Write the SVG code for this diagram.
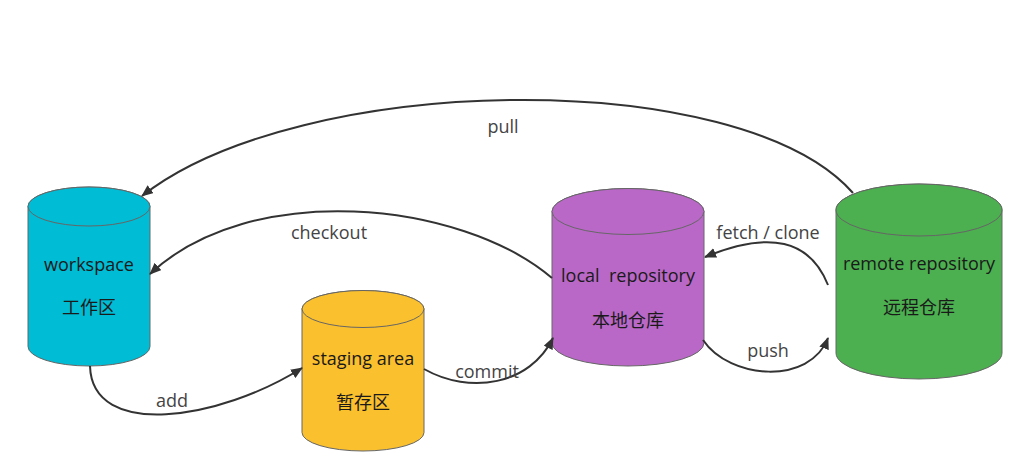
<svg xmlns="http://www.w3.org/2000/svg" width="1034" height="476" viewBox="0 0 1034 476">
<style>
.cyl{stroke:#666;stroke-width:1}
.nt{font-family:"Open Sans","Noto Sans CJK SC",sans-serif;font-size:18px;fill:#1a1a1a;text-anchor:middle;dominant-baseline:central}
.lb{font-family:"Open Sans","Noto Sans CJK SC",sans-serif;font-size:18px;fill:#444;text-anchor:middle;dominant-baseline:central}
.ed{fill:none;stroke:#333;stroke-width:2;marker-end:url(#ah)}
</style>
<defs>
<marker id="ah" viewBox="0 0 12 10" refX="11" refY="5" markerWidth="12" markerHeight="10" markerUnits="userSpaceOnUse" orient="auto">
<path d="M0 0 L12 5 L0 10 Z" fill="#333"/>
</marker>
</defs>
<rect width="1034" height="476" fill="#fff"/>
<g id="workspace">
<path class="cyl" fill="#00bcd4" d="M28 206.5 L28 346.5 A61 19.5 0 0 0 150 346.5 L150 206.5 A61 19.5 0 0 0 28 206.5 Z"/>
<ellipse class="cyl" fill="#00bcd4" cx="89" cy="206.5" rx="61" ry="19.5"/>
<text class="nt" x="89" y="263.5">workspace</text>
<text class="nt" x="89" y="306.5">工作区</text>
</g>
<g id="staging">
<path class="cyl" fill="#fbc02d" d="M302 309 L302 432.5 A61 18.5 0 0 0 424 432.5 L424 309 A61 18.5 0 0 0 302 309 Z"/>
<ellipse class="cyl" fill="#fbc02d" cx="363" cy="309" rx="61" ry="18.5"/>
<text class="nt" x="363" y="357.5">staging area</text>
<text class="nt" x="363" y="401.5">暂存区</text>
</g>
<g id="local">
<path class="cyl" fill="#ba68c8" d="M552 211.5 L552 343 A76 23 0 0 0 704 343 L704 211.5 A76 23 0 0 0 552 211.5 Z"/>
<ellipse class="cyl" fill="#ba68c8" cx="628" cy="211.5" rx="76" ry="23"/>
<text class="nt" x="628" y="274.5" xml:space="preserve">local  repository</text>
<text class="nt" x="628" y="319.5">本地仓库</text>
</g>
<g id="remote">
<path class="cyl" fill="#4caf50" d="M836 210 L836 353 A83 26 0 0 0 1002 353 L1002 210 A83 26 0 0 0 836 210 Z"/>
<ellipse class="cyl" fill="#4caf50" cx="919" cy="210" rx="83" ry="26"/>
<text class="nt" x="919" y="262.5">remote repository</text>
<text class="nt" x="919" y="306.5">远程仓库</text>
</g>
<g id="connectors">
<path class="ed" d="M853 193 C740 65, 300 72, 142 196"/>
<path class="ed" d="M552 278 C460 200, 250 180, 150 274"/>
<path class="ed" d="M90 366 C92 440, 220 420, 302 368"/>
<path class="ed" d="M424 369 C470 395, 530 385, 553 338"/>
<path class="ed" d="M828 285 C810 240, 770 230, 705 257"/>
<path class="ed" d="M703 340 C730 380, 810 385, 828 338"/>
<text class="lb" x="503" y="125.5">pull</text>
<text class="lb" x="329" y="231.5">checkout</text>
<text class="lb" x="172" y="399.5">add</text>
<text class="lb" x="487" y="370.5">commit</text>
<text class="lb" x="768" y="231.5">fetch / clone</text>
<text class="lb" x="768" y="349.5">push</text>
</g>
</svg>
